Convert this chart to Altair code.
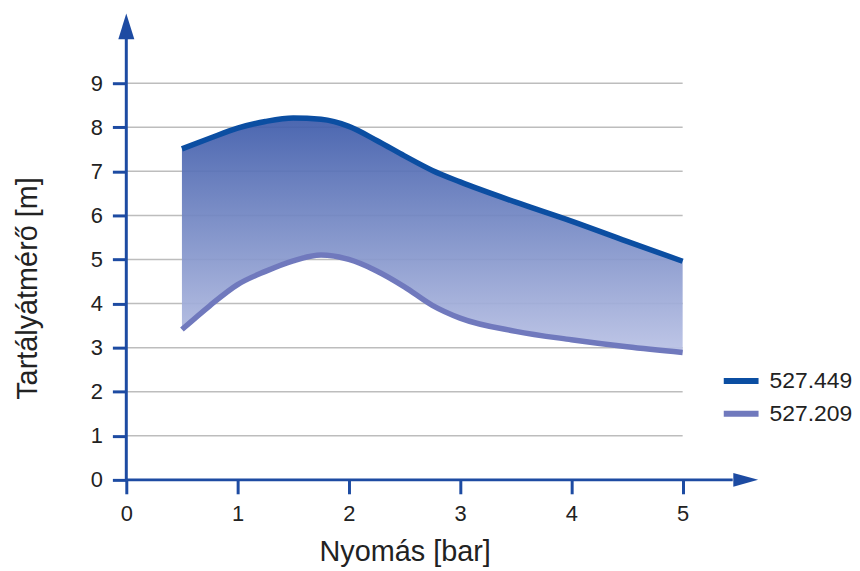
import altair as alt
import pandas as pd

# ---- data ----
pressure = [0.5, 0.75, 1.0, 1.25, 1.5, 1.75, 2.0, 2.25, 2.5, 2.75, 3.0, 3.5, 4.0, 4.5, 5.0]
d_527449 = [7.51, 7.75, 7.98, 8.13, 8.21, 8.18, 8.02, 7.70, 7.35, 7.02, 6.76, 6.30, 5.87, 5.41, 4.96]
d_527209 = [3.41, 3.95, 4.43, 4.73, 4.97, 5.10, 5.00, 4.74, 4.38, 3.96, 3.67, 3.37, 3.18, 3.02, 2.89]
series_names = ["527.449", "527.209"]
x_ticks = [0, 1, 2, 3, 4, 5]
y_ticks = [0, 1, 2, 3, 4, 5, 6, 7, 8, 9]
grid_values = [1, 2, 3, 4, 5, 6, 7, 8, 9]
x_axis_end = 5.45     # where the x axis line meets its arrow head
y_axis_end = 10.0     # where the y axis line meets its arrow head
x_arrow_at = 5.567
y_arrow_at = 10.29

BLUE_AXIS = "#1d4ba2"
DARK = "#0b4ea2"
LIGHT = "#7079bd"
TEXT = "#222222"
FONT = "Liberation Sans"

xs = alt.Scale(domain=[0, 5.7], nice=False, zero=False)
ys = alt.Scale(domain=[0, 10.6], nice=False, zero=False)

x_axis = alt.Axis(values=x_ticks, domain=False, grid=False, ticks=True,
                  tickColor=BLUE_AXIS, tickWidth=3, tickSize=14, labelFlush=False,
                  labelFontSize=22, labelColor=TEXT, labelPadding=10, labelFont=FONT,
                  title="Nyomás [bar]", titleFontSize=29, titleFontWeight="normal",
                  titleColor=TEXT, titleFont=FONT, titleX=280, titleY=81,
                  titleBaseline="alphabetic")
y_axis = alt.Axis(values=y_ticks, domain=False, grid=False, ticks=True,
                  tickColor=BLUE_AXIS, tickWidth=3, tickSize=14, labelFlush=False,
                  labelFontSize=22, labelColor=TEXT, labelPadding=10, labelFont=FONT,
                  title="Tartályátmérő [m]", titleFontSize=29, titleFontWeight="normal",
                  titleColor=TEXT, titleFont=FONT, titleX=-90, titleY=277,
                  titleBaseline="alphabetic")

def X(field="x"):
    return alt.X(f"{field}:Q", scale=xs, axis=x_axis)

def Y(field="y"):
    return alt.Y(f"{field}:Q", scale=ys, axis=y_axis)

wide = pd.DataFrame({"x": pressure, "y": d_527449, "y2": d_527209})
long = pd.DataFrame({
    "x": pressure + pressure,
    "y": d_527449 + d_527209,
    "s": [series_names[0]] * len(pressure) + [series_names[1]] * len(pressure),
})
grid_df = pd.DataFrame({"y": grid_values, "x": [0] * len(grid_values), "x2": [5] * len(grid_values)})
hline_df = pd.DataFrame({"x": [0], "x2": [x_axis_end], "y": [0]})
vline_df = pd.DataFrame({"x": [0], "y": [0], "y2": [y_axis_end]})
xarrow_df = pd.DataFrame({"x": [x_arrow_at], "y": [0]})
yarrow_df = pd.DataFrame({"x": [0], "y": [y_arrow_at]})

grid = alt.Chart(grid_df).mark_rule(color="#bdbdbd", strokeWidth=1.5).encode(
    x=X(), x2="x2", y=Y())

gradient = alt.Gradient(
    gradient="linear",
    stops=[alt.GradientStop(color="#3e5baa", offset=0),
           alt.GradientStop(color="#bac2e5", offset=1)],
    x1=0, x2=0, y1=0, y2=1)

area = alt.Chart(wide).mark_area(interpolate="monotone", color=gradient, opacity=0.93).encode(
    x=X(), y=Y(), y2="y2")

lines = alt.Chart(long).mark_line(interpolate="monotone", strokeWidth=5.5, strokeCap="butt").encode(
    x=X(), y=Y(),
    color=alt.Color("s:N", scale=alt.Scale(domain=series_names, range=[DARK, LIGHT]),
                    legend=alt.Legend(title=None, orient="none", legendX=598, legendY=350,
                                      symbolType="stroke", symbolSize=1225, symbolStrokeWidth=6,
                                      labelFontSize=23, labelColor=TEXT, labelFont=FONT,
                                      labelOffset=8, rowPadding=0, padding=0,
                                      offset=0)),
)

hline = alt.Chart(hline_df).mark_rule(color=BLUE_AXIS, strokeWidth=3).encode(
    x=X(), x2="x2", y=Y())
vline = alt.Chart(vline_df).mark_rule(color=BLUE_AXIS, strokeWidth=3).encode(
    x=X(), y=Y(), y2="y2")

xarrow = alt.Chart(xarrow_df).mark_point(
    shape="M1,0L-1,-0.56L-1,0.56Z", size=625, filled=True, color=BLUE_AXIS,
    opacity=1, strokeWidth=0).encode(x=X(), y=Y())
yarrow = alt.Chart(yarrow_df).mark_point(
    shape="M0,-1L0.62,1L-0.62,1Z", size=676, filled=True, color=BLUE_AXIS,
    opacity=1, strokeWidth=0).encode(x=X(), y=Y())

chart = alt.layer(grid, area, lines, hline, vline, xarrow, yarrow).properties(
    width=638, height=470,
    autosize=alt.AutoSizeParams(type="none"),
    padding={"left": 119, "top": 3, "right": 92, "bottom": 89},
).configure(font=FONT).configure_view(stroke=None)

chart.save("out.html", embed_options={"renderer": "svg", "actions": False})
